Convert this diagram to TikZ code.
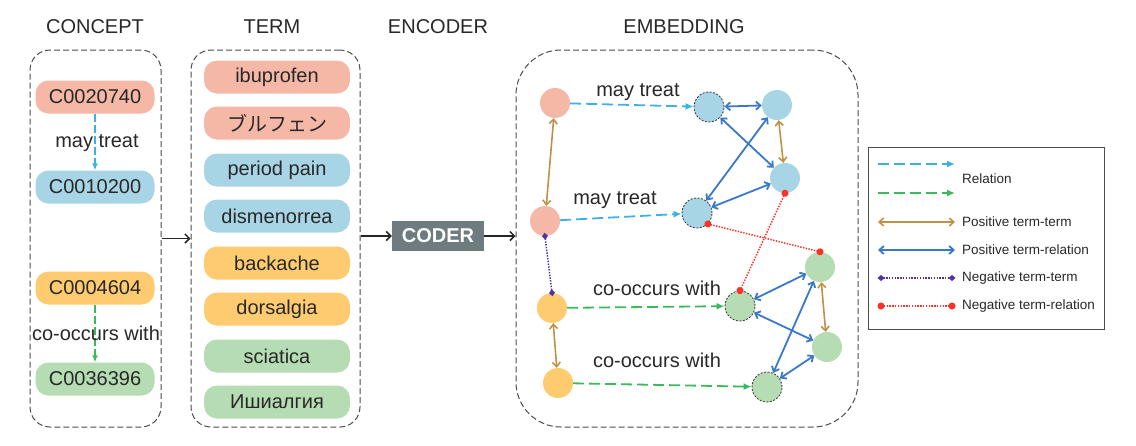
\documentclass[tikz,border=0pt]{standalone}
\usepackage{fontspec}
\setmainfont{Liberation Sans}
\newfontfamily\jpfont{Noto Sans CJK JP}
\usetikzlibrary{arrows.meta}
\definecolor{csalmon}{RGB}{245,183,166}
\definecolor{cblue}{RGB}{168,213,230}
\definecolor{corange}{RGB}{255,203,112}
\definecolor{cgreen}{RGB}{181,220,178}
\definecolor{ctext}{RGB}{40,40,40}
\definecolor{crelb}{RGB}{59,178,230}
\definecolor{crelg}{RGB}{60,185,90}
\definecolor{ctan}{RGB}{190,145,70}
\definecolor{cposb}{RGB}{58,120,200}
\definecolor{cpurple}{RGB}{80,50,160}
\definecolor{cred}{RGB}{250,50,40}
\definecolor{ccoder}{RGB}{110,124,128}
\tikzset{
  lab/.style={font=\fontsize{20}{24}\selectfont, text=ctext, inner sep=0pt},
  leg/.style={font=\fontsize{13.5}{16}\selectfont, text=ctext, anchor=west, inner sep=0pt},
  pill/.style={rounded corners=13pt, minimum height=33pt, inner sep=0pt, font=\fontsize{20}{24}\selectfont, text=ctext},
  cpill/.style={pill, minimum width=119pt},
  tpill/.style={pill, minimum width=146pt},
  grp/.style={draw=black!70, line width=1pt, dash pattern=on 6pt off 3pt},
  emb/.style={circle, minimum size=30pt, inner sep=0pt},
  hub/.style={emb, draw=black!75, line width=0.9pt, dash pattern=on 2pt off 1.5pt},
  rel/.style={line width=1.8pt, dash pattern=on 11pt off 5pt, -{Latex[length=8pt,width=7pt]}},
  crel/.style={line width=1.5pt, dash pattern=on 8pt off 3pt, -{Latex[length=7pt,width=6pt]}},
  ptt/.style={ctan, line width=1.6pt, {Straight Barb[length=4.5pt,width=8pt]}-{Straight Barb[length=4.5pt,width=8pt]}},
  ptr/.style={cposb, line width=1.8pt, {Straight Barb[length=4.5pt,width=8pt]}-{Straight Barb[length=4.5pt,width=8pt]}},
  ntt/.style={cpurple, line width=1.5pt, dash pattern=on 1.4pt off 1.4pt, {Diamond[length=7pt,width=6pt]}-{Diamond[length=7pt,width=6pt]}, shorten <=-3.5pt, shorten >=-3.5pt},
  ntr/.style={cred, line width=1.5pt, dash pattern=on 1.4pt off 1.4pt, {Circle[length=7pt]}-{Circle[length=7pt]}, shorten <=-3.5pt, shorten >=-3.5pt},
  flow/.style={black!85, line width=1.5pt, -{Straight Barb[length=4.5pt,width=9pt]}}
}
\begin{document}
\begin{tikzpicture}[x=1pt,y=-1pt]
\useasboundingbox (0,0) rectangle (1136,445);
% titles
\node[lab] (t1) at (95,27) {CONCEPT};
\node[lab] (t2) at (272,27) {TERM};
\node[lab] (t3) at (438,27) {ENCODER};
\node[lab] (t4) at (684,27) {EMBEDDING};
% group boxes
\node[grp, rounded corners=20pt, minimum width=131pt, minimum height=377pt] (concept) at (95.5,238.5) {};
\node[grp, rounded corners=20pt, minimum width=169pt, minimum height=377pt] (term) at (275.5,238.5) {};
\node[grp, rounded corners=45pt, minimum width=342pt, minimum height=377pt] (embed) at (687,238.5) {};
% concepts
\node[cpill, fill=csalmon] (c1) at (95,97) {C0020740};
\node[cpill, fill=cblue] (c2) at (95,187) {C0010200};
\node[cpill, fill=corange] (c3) at (95,288) {C0004604};
\node[cpill, fill=cgreen] (c4) at (95,379) {C0036396};
\draw[crel, crelb] (c1) -- (c2);
\draw[crel, crelg] (c3) -- (c4);
\node[lab] (l1) at (97,143) {may treat};
\node[lab] (l2) at (96,333) {co-occurs with};
% terms
\node[tpill, fill=csalmon] (e1) at (277,77) {ibuprofen};
\node[tpill, fill=csalmon] (e2) at (277,123) {\jpfont ブルフェン};
\node[tpill, fill=cblue] (e3) at (277,170) {period pain};
\node[tpill, fill=cblue] (e4) at (277,216) {dismenorrea};
\node[tpill, fill=corange] (e5) at (277,263) {backache};
\node[tpill, fill=corange] (e6) at (277,309) {dorsalgia};
\node[tpill, fill=cgreen] (e7) at (277,356) {sciatica};
\node[tpill, fill=cgreen] (e8) at (277,402) {Ишиалгия};
% encoder
\node[fill=ccoder, minimum width=92pt, minimum height=30pt, inner sep=0pt, text=white, font=\fontsize{20}{24}\selectfont\bfseries] (coder) at (438,236) {CODER};
\draw[flow] (concept) -- (term);
\draw[flow] (term.east |- coder.west) -- (coder.west);
\draw[flow] (coder.east) -- (embed.west |- coder.east);
% embedding nodes
\node[emb, fill=csalmon] (p1) at (555,103) {};
\node[hub, fill=cblue] (b1) at (709,107) {};
\node[emb, fill=cblue] (b2) at (777,105) {};
\node[emb, fill=cblue] (b3) at (785,178) {};
\node[emb, fill=csalmon] (p2) at (545,221) {};
\node[hub, fill=cblue] (b4) at (697,213) {};
\node[emb, fill=corange] (o1) at (552,308) {};
\node[hub, fill=cgreen] (g1) at (740,306) {};
\node[emb, fill=cgreen] (g2) at (820,267) {};
\node[emb, fill=cgreen] (g3) at (827,347) {};
\node[emb, fill=corange] (o2) at (558,383) {};
\node[hub, fill=cgreen] (g4) at (767,387) {};
% labels
\node[lab] (m1) at (638,92) {may treat};
\node[lab] (m2) at (615,200) {may treat};
\node[lab] (m3) at (657,288) {co-occurs with};
\node[lab] (m4) at (657,360) {co-occurs with};
% relations
\draw[rel, crelb] (p1) -- (b1);
\draw[rel, crelb] (p2) -- (b4);
\draw[rel, crelg] (o1) -- (g1);
\draw[rel, crelg] (o2) -- (g4);
% positive term-term
\draw[ptt] (p1) -- (p2);
\draw[ptt] (o1) -- (o2);
\draw[ptt] (b2) -- (b3);
\draw[ptt] (g2) -- (g3);
% positive term-relation
\draw[ptr] (b1) -- (b2);
\draw[ptr] (b1) -- (b3);
\draw[ptr] (b2) -- (b4);
\draw[ptr] (b3) -- (b4);
\draw[ptr] (g1) -- (g2);
\draw[ptr] (g1) -- (g3);
\draw[ptr] (g2) -- (g4);
\draw[ptr] (g3) -- (g4);
% negatives
\draw[ntt] (p2.south) -- (o1.north);
\draw[ntr] (b4.-45) -- (g2.north);
\draw[ntr] (b3.south) -- (g1.north);
% legend
\node[draw=black!70, line width=1pt, minimum width=236pt, minimum height=182pt, inner sep=0pt] (legend) at (986,238) {};
\coordinate (a1) at (878,164); \coordinate (a2) at (955,164);
\coordinate (b1l) at (878,193); \coordinate (b2l) at (955,193);
\coordinate (d1) at (878,222); \coordinate (d2) at (955,222);
\coordinate (f1) at (878,250); \coordinate (f2) at (955,250);
\coordinate (h1) at (881,278); \coordinate (h2) at (952,278);
\coordinate (k1) at (881,306); \coordinate (k2) at (952,306);
\draw[rel, crelb] (a1) -- (a2);
\draw[rel, crelg] (b1l) -- (b2l);
\draw[ptt] (d1) -- (d2);
\draw[ptr] (f1) -- (f2);
\draw[ntt] (h1) -- (h2);
\draw[ntr] (k1) -- (k2);
\node[leg] (r1) at (962,179) {Relation};
\node[leg] (r2) at (962,222) {Positive term-term};
\node[leg] (r3) at (962,250) {Positive term-relation};
\node[leg] (r4) at (962,278) {Negative term-term};
\node[leg] (r5) at (962,306) {Negative term-relation};
\end{tikzpicture}
\end{document}
